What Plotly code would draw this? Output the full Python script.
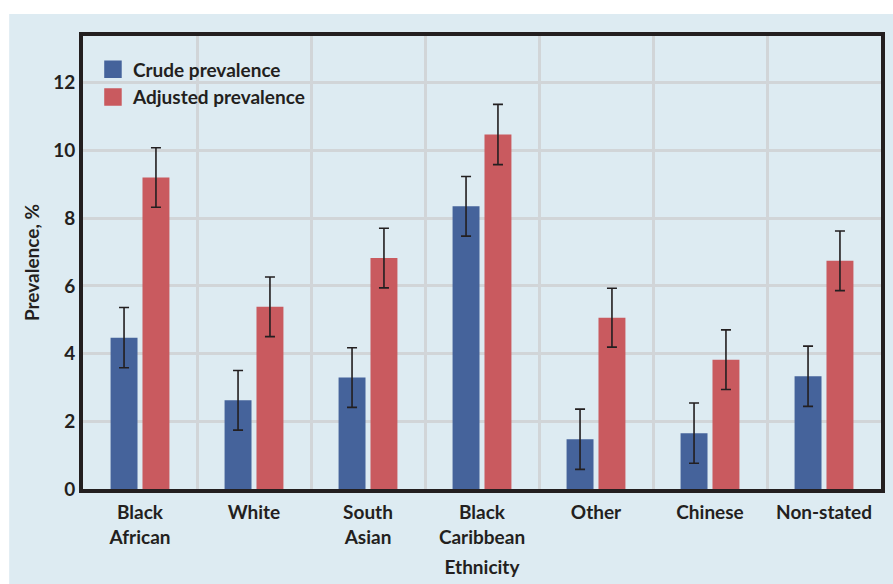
import plotly.graph_objects as go

# Prevalence by ethnic group, crude vs age-adjusted, with 95% CI half-widths
categories = ["Black<br>African", "White", "South<br>Asian", "Black<br>Caribbean",
              "Other", "Chinese", "Non-stated"]
crude = [4.47, 2.62, 3.29, 8.35, 1.47, 1.65, 3.33]
crude_err = [0.89, 0.88, 0.88, 0.88, 0.89, 0.89, 0.89]
adjusted = [9.20, 5.38, 6.82, 10.47, 5.06, 3.82, 6.74]
adjusted_err = [0.88, 0.88, 0.88, 0.89, 0.87, 0.88, 0.88]
y_ticks = [0, 2, 4, 6, 8, 10, 12]

BLUE = "#45639b"
RED = "#c95a5f"
BG = "#ddebf2"
GRID = "#d1d5d8"
INK = "#231f20"
FONT = dict(family="Lato", size=19, color=INK, weight="bold")

x_pos = list(range(len(categories)))
boundaries = [i + 0.5 for i in x_pos[:-1]]

fig = go.Figure()

err_style = dict(type="data", color=INK, thickness=1.6, width=5)

fig.add_trace(go.Bar(
    x=x_pos, y=crude, name="Crude prevalence", marker_color=BLUE,
    marker_line_width=0, showlegend=False,
    error_y=dict(array=crude_err, **err_style),
))
fig.add_trace(go.Bar(
    x=x_pos, y=adjusted, name="Adjusted prevalence", marker_color=RED,
    marker_line_width=0, showlegend=False,
    error_y=dict(array=adjusted_err, **err_style),
))

# square legend swatches
for name, col in [("Crude prevalence", BLUE), ("Adjusted prevalence", RED)]:
    fig.add_trace(go.Scatter(
        x=[None], y=[None], mode="markers", name=name,
        marker=dict(symbol="square", size=16, color=col,
                    line=dict(width=1.5, color=col)),
    ))

# light-blue panel behind the whole chart
fig.add_shape(type="rect", xref="paper", yref="paper",
              x0=-0.0925, x1=1.05, y0=-0.3, y1=1.0484,
              fillcolor=BG, line_width=0, layer="below")

fig.update_layout(
    width=893, height=584,
    margin=dict(l=83, r=8, t=36, b=93),
    paper_bgcolor="white",
    plot_bgcolor=BG,
    barmode="group",
    bargap=0.44,
    bargroupgap=0.156,
    font=FONT,
    legend=dict(
        x=0.0125, y=0.968, xanchor="left", yanchor="top",
        bgcolor="rgba(0,0,0,0)", font=FONT, tracegroupgap=0,
        itemsizing="trace",
    ),
)

fig.update_xaxes(
    range=[-0.5, len(categories) - 0.5],
    tickmode="array", tickvals=x_pos, ticktext=categories,
    showgrid=False, zeroline=False,
    ticks="", tickfont=FONT, ticklabelstandoff=3,
    showline=True, linecolor=INK, linewidth=4, mirror=True,
    minor=dict(tickmode="array", tickvals=boundaries, showgrid=True,
               gridcolor=GRID, gridwidth=3, ticks=""),
    title=dict(text="Ethnicity", font=FONT, standoff=15),
)

fig.update_yaxes(
    range=[0, 13.38],
    tickmode="array", tickvals=y_ticks,
    showgrid=True, gridcolor=GRID, gridwidth=3, zeroline=False,
    ticks="", tickfont=FONT,
    showline=True, linecolor=INK, linewidth=4, mirror=True,
    title=dict(text="Prevalence, %", font=FONT, standoff=10),
)

fig.write_html("out.html")
